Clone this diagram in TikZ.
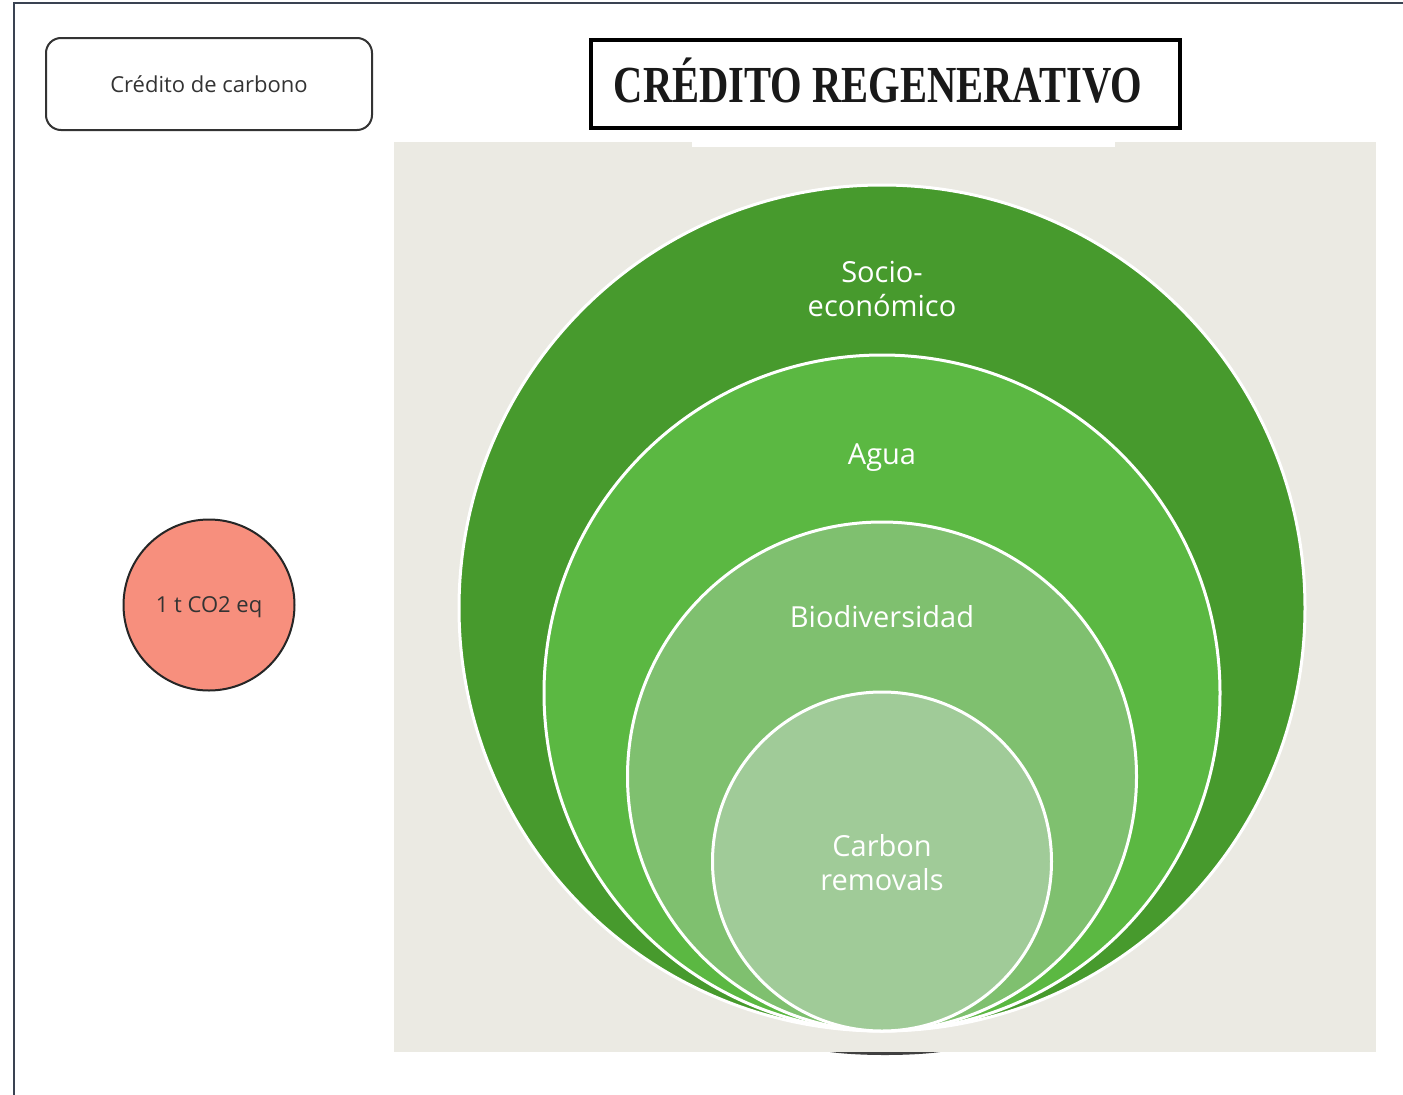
\documentclass[tikz,border=0pt]{standalone}
\usepackage{fontspec}
\setmainfont{Open Sans}
\newfontfamily\titlefont{Liberation Serif}
\definecolor{framec}{HTML}{3A4352}
\definecolor{panel}{HTML}{EBEAE3}
\definecolor{gA}{HTML}{479A2D}
\definecolor{gB}{HTML}{5BB842}
\definecolor{gC}{HTML}{7FC06F}
\definecolor{gD}{HTML}{A0CB98}
\definecolor{salmon}{HTML}{F78F7D}
\definecolor{boxline}{HTML}{333333}
\tikzset{
  ring/.style={circle, draw=white, line width=3pt, inner sep=0pt},
  ringlabel/.style={text=white, font=\fontsize{29}{34}\selectfont, align=center},
}
\begin{document}
\begin{tikzpicture}[x=1pt,y=-1pt]
\useasboundingbox (0,0) rectangle (1403,1095);
\fill[white] (0,0) rectangle (1403,1095);
% frame lines
\draw[framec, line width=2.2pt] (14,1095) -- (14,3) -- (1403,3);
% panel
\fill[panel] (394,142) rectangle (1376,1052);
\fill[white] (692,142) rectangle (1115,147);
% shadow under panel
\fill[black!75] (830,1052) .. controls (860,1056) and (910,1056) .. (940,1052) -- cycle;
% circles (all tangent at bottom y=1031)
\node[ring, fill=gA, minimum size=846pt] (c1) at (882,608) {};
\node[ring, fill=gB, minimum size=676pt] (c2) at (882,693) {};
\node[ring, fill=gC, minimum size=509pt] (c3) at (882,776.5) {};
\node[ring, fill=gD, minimum size=339pt] (c4) at (882,861.5) {};
% labels
\node[ringlabel] (l1) at (882,289) {Socio-\\económico};
\node[ringlabel] (l2) at (882,458) {Agua};
\node[ringlabel] (l3) at (882,617) {Biodiversidad};
\node[ringlabel] (l4) at (882,863) {Carbon\\removals};
% top-left box
\node[draw=boxline, line width=2pt, rounded corners=15pt, minimum width=326pt, minimum height=92pt,
      font=\fontsize{22}{26}\selectfont, text=black!80] (cc) at (209,84) {Crédito de carbono};
% title box
\node[draw=black, line width=4pt, minimum width=589pt, minimum height=88pt, inner sep=0pt] (tb) at (885.5,84) {};
\node[font=\titlefont\bfseries\fontsize{52}{60}\selectfont, text=black!90, xscale=0.78, anchor=west] (tt) at (611,81) {CRÉDITO REGENERATIVO};
% red circle
\node[circle, draw=black!85, line width=2pt, fill=salmon, minimum size=171pt, inner sep=0pt] (co2) at (209,605) {};
\node[font=\fontsize{22}{26}\selectfont, text=black!80] (co2t) at (209,607) {1 t CO2 eq};
\end{tikzpicture}
\end{document}
